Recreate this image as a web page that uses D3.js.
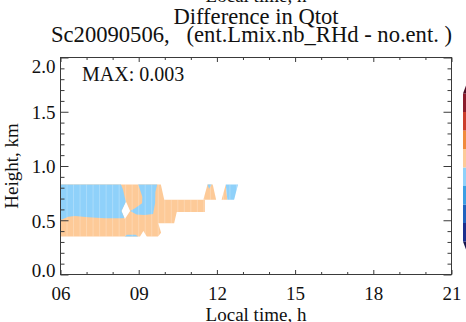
<!DOCTYPE html>
<html>
<head>
<meta charset="utf-8">
<script src="https://cdn.jsdelivr.net/npm/d3@7"></script>
<style>
  html, body { margin: 0; padding: 0; background: #fff; overflow: hidden; }
  svg { display: block; }
  svg text { font-family: "Liberation Serif", "Times New Roman", serif; }
</style>
</head>
<body>
<svg id="chart" width="466" height="322"></svg>
<script>
// ---- axes -------------------------------------------------------------
const timeDomain = [6, 21];                       // local time, h
const heightDomain = [0, 2];                      // height, km
const timeMajorTicks = [6, 9, 12, 15, 18, 21];
const timeTickLabels = ["06", "09", "12", "15", "18", "21"];
const timeMinorTicks = [7, 8, 10, 11, 13, 14, 16, 17, 19, 20];
const heightMajorTicks = [0, 0.5, 1.0, 1.5, 2.0];
const heightMinorTicks = [0.1, 0.2, 0.3, 0.4, 0.6, 0.7, 0.8, 0.9,
                          1.1, 1.2, 1.3, 1.4, 1.6, 1.7, 1.8, 1.9];

// ---- contour levels of the Qtot difference (g/kg) ---------------------
const contourLevels = [-0.003, -0.0024, -0.0018, -0.0012, -0.0006, 0,
                        0.0006, 0.0012, 0.0018, 0.0024, 0.003];
const levelColors = ["#15164d", "#1d2f8e", "#2163bf", "#3c9fe4", "#8fd1fa",
                     "#fdca98", "#f08b3d", "#cc3d2b", "#8b1b2b", "#4a0c24"];
const maxValue = 0.003;
const modelStep = 0.25;                           // output interval, h

// ---- filled contour outlines, [local time h, height km] ---------------
// band index 5: 0 .. +0.0006
const positiveBand = [
  [[6.00, 0.83], [9.85, 0.83], [9.98, 0.69], [11.54, 0.69], [11.54, 0.575],
   [10.46, 0.575], [10.36, 0.472], [9.75, 0.472], [9.86, 0.385], [9.74, 0.35],
   [9.31, 0.35], [9.18, 0.40], [9.05, 0.35], [6.00, 0.35]],
  [[11.48, 0.69], [11.64, 0.83], [11.84, 0.83], [11.97, 0.69]],
  [[12.18, 0.69], [12.34, 0.83], [12.40, 0.69]]
];
// band index 4: -0.0006 .. 0
const negativeBand = [
  [[6.00, 0.83], [8.32, 0.83], [8.40, 0.78], [8.47, 0.705], [8.51, 0.673],
   [8.34, 0.585], [8.45, 0.52], [8.35, 0.518], [7.71, 0.518], [7.07, 0.527],
   [6.56, 0.539], [6.30, 0.532], [6.00, 0.502]],
  [[8.98, 0.83], [9.05, 0.78], [9.14, 0.714], [9.13, 0.656], [8.86, 0.61],
   [8.67, 0.585], [8.92, 0.552], [9.24, 0.548], [9.55, 0.558], [9.63, 0.659],
   [9.64, 0.76], [9.71, 0.83]],
  [[8.46, 0.35], [8.55, 0.366], [8.88, 0.366], [8.98, 0.35]],
  [[11.64, 0.83], [11.80, 0.83], [11.70, 0.79]],
  [[12.34, 0.83], [12.81, 0.83], [12.66, 0.69], [12.40, 0.69]]
];
// undefined (no cloud) pocket inside the first positive outline
const emptyPockets = [
  [[8.51, 0.673], [8.67, 0.585], [8.47, 0.512], [8.34, 0.585]]
];

// ---- layout -------------------------------------------------------------
const svg = d3.select("#chart");
const plot = { left: 60.5, right: 451.5, top: 57.5, bottom: 274.5 };
const axisColor = "#3a3a3a";
const serif = '"Liberation Serif", "Times New Roman", serif';

const x = d3.scaleLinear().domain(timeDomain).range([plot.left, plot.right]);
const y = d3.scaleLinear().domain(heightDomain).range([plot.bottom, plot.top]);

const ring = d3.line().x(d => x(d[0])).y(d => y(d[1])).curve(d3.curveLinearClosed);
const outline = (poly, i) => i === 0 ? ring(poly) + emptyPockets.map(ring).join("") : ring(poly);

// filled contours
const fills = svg.append("g");
positiveBand.forEach((poly, i) => {
  fills.append("path").attr("d", outline(poly, i)).attr("fill", levelColors[5])
    .attr("fill-rule", "evenodd");
});
negativeBand.forEach(poly => {
  fills.append("path").attr("d", ring(poly)).attr("fill", levelColors[4]);
});

// faint seams between model output columns
const clip = svg.append("defs").append("clipPath").attr("id", "filled");
positiveBand.forEach((poly, i) => {
  clip.append("path").attr("d", outline(poly, i)).attr("clip-rule", "evenodd");
});
negativeBand.forEach(poly => clip.append("path").attr("d", ring(poly)));
svg.append("g").attr("clip-path", "url(#filled)")
  .selectAll("line").data(d3.range(timeDomain[0] + modelStep, 13, modelStep))
  .join("line")
  .attr("x1", d => x(d)).attr("x2", d => x(d))
  .attr("y1", plot.top).attr("y2", plot.bottom)
  .attr("stroke", "#fff").attr("stroke-opacity", 0.3).attr("stroke-width", 0.8);

// ---- axes (IDL style: ticks point inward on all four sides) -------------
function styleAxis(g) {
  g.attr("font-family", null).attr("font-size", null);
  g.select(".domain").remove();
  g.selectAll("line").attr("stroke", axisColor);
  g.selectAll("text").attr("fill", "#111").style("font-family", serif).style("font-size", "19px");
}

svg.append("g").attr("transform", `translate(0,${plot.bottom})`)
  .call(d3.axisBottom(x).tickValues(timeMajorTicks).tickSize(-4.5).tickPadding(12)
    .tickFormat((d, i) => timeTickLabels[i]))
  .call(styleAxis);
svg.append("g").attr("transform", `translate(0,${plot.bottom})`)
  .call(d3.axisBottom(x).tickValues(timeMinorTicks).tickSize(-2.5).tickFormat(""))
  .call(styleAxis);
svg.append("g").attr("transform", `translate(0,${plot.top})`)
  .call(d3.axisTop(x).tickValues(timeMajorTicks).tickSize(-4.5).tickFormat(""))
  .call(styleAxis);
svg.append("g").attr("transform", `translate(0,${plot.top})`)
  .call(d3.axisTop(x).tickValues(timeMinorTicks).tickSize(-2.5).tickFormat(""))
  .call(styleAxis);

const leftMajor = svg.append("g").attr("transform", `translate(${plot.left},0)`)
  .call(d3.axisLeft(y).tickValues(heightMajorTicks).tickSize(-8).tickPadding(5)
    .tickFormat(d3.format(".1f")))
  .call(styleAxis);
leftMajor.selectAll("text")
  .attr("dy", d => d === 2 ? "0.78em" : d === 0 ? "0.1em" : "0.36em");
svg.append("g").attr("transform", `translate(${plot.left},0)`)
  .call(d3.axisLeft(y).tickValues(heightMinorTicks).tickSize(-4).tickFormat(""))
  .call(styleAxis);
svg.append("g").attr("transform", `translate(${plot.right},0)`)
  .call(d3.axisRight(y).tickValues(heightMajorTicks).tickSize(-8).tickFormat(""))
  .call(styleAxis);
svg.append("g").attr("transform", `translate(${plot.right},0)`)
  .call(d3.axisRight(y).tickValues(heightMinorTicks).tickSize(-4).tickFormat(""))
  .call(styleAxis);

// frame
svg.append("rect")
  .attr("x", plot.left).attr("y", plot.top)
  .attr("width", plot.right - plot.left).attr("height", plot.bottom - plot.top)
  .attr("fill", "none").attr("stroke", axisColor).attr("stroke-width", 1);

// ---- colour bar ---------------------------------------------------------
const cbar = { left: 463, width: 14, top: 75, bottom: 260 };
const cy = d3.scaleLinear().domain([contourLevels[0], contourLevels[contourLevels.length - 1]])
  .range([cbar.bottom, cbar.top]);
const cbarG = svg.append("g");
levelColors.forEach((c, i) => {
  const y0 = cy(contourLevels[i]), y1 = cy(contourLevels[i + 1]);
  let pts;
  if (i === 0) {
    pts = [[cbar.left, y1], [cbar.left + cbar.width, y1], [cbar.left + cbar.width / 2, y0]];
  } else if (i === levelColors.length - 1) {
    pts = [[cbar.left, y0], [cbar.left + cbar.width, y0], [cbar.left + cbar.width / 2, y1]];
  } else {
    pts = [[cbar.left, y1], [cbar.left + cbar.width, y1], [cbar.left + cbar.width, y0], [cbar.left, y0]];
  }
  cbarG.append("polygon").attr("points", pts.map(p => p.join(",")).join(" ")).attr("fill", c);
});

// ---- text ---------------------------------------------------------------
const txt = (s, xx, yy, size, anchor = "middle") =>
  svg.append("text").attr("x", xx).attr("y", yy)
    .style("font-size", size + "px").style("font-family", serif)
    .attr("text-anchor", anchor).attr("fill", "#111").text(s);

txt("Local time, h", 256, 1.5, 19);                     // x label of the panel above
txt("Difference in Qtot", 256, 24, 22.6);
txt("Sc20090506,   (ent.Lmix.nb_RHd - no.ent. )", 251.5, 42, 22.6)
  .style("white-space", "pre");
txt("MAX: " + d3.format(".3f")(maxValue), 82, 81, 20, "start");
txt("Local time, h", 256, 320.5, 19);
svg.append("text")
  .attr("transform", `translate(18,${(plot.top + plot.bottom) / 2}) rotate(-90)`)
  .attr("text-anchor", "middle").style("font-size", "19px").style("font-family", serif)
  .attr("fill", "#111")
  .text("Height, km");
</script>
</body>
</html>
